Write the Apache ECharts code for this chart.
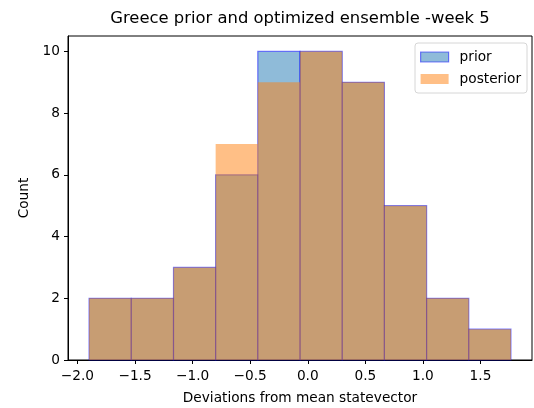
<!DOCTYPE html>
<html>
<head>
<meta charset="utf-8">
<script src="https://cdn.jsdelivr.net/npm/echarts@6/dist/echarts.min.js"></script>
<style>html,body{margin:0;padding:0;background:#fff}#c{width:534px;height:408px}</style>
</head>
<body>
<div id="c"></div>
<script>
const binEdges = [-1.899, -1.533, -1.166, -0.800, -0.434, -0.067, 0.299, 0.665, 1.032, 1.398, 1.764];
const priorCounts = [2, 2, 3, 6, 10, 10, 9, 5, 2, 1];
const posteriorCounts = [2, 2, 3, 7, 9, 10, 9, 5, 2, 1];
const xTicks = [-2.0, -1.5, -1.0, -0.5, 0.0, 0.5, 1.0, 1.5];
const yTicks = [0, 2, 4, 6, 8, 10];
const seriesNames = ['prior', 'posterior'];

const font = 'DejaVu Sans';
const fs = 13.7;
function toBins(counts) {
  return counts.map((c, i) => [binEdges[i], binEdges[i + 1], c]);
}
function makeRender(fill, stroke) {
  return function (params, api) {
    const p0 = api.coord([api.value(0), api.value(2)]);
    const p1 = api.coord([api.value(1), 0]);
    return {
      type: 'rect',
      shape: { x: p0[0], y: p0[1], width: p1[0] - p0[0], height: p1[1] - p0[1] },
      style: { fill: fill, stroke: stroke, lineWidth: stroke ? 1.2 : 0 }
    };
  };
}
const span = binEdges[binEdges.length - 1] - binEdges[0];
const xMin = binEdges[0] - 0.05 * span;
const xMax = binEdges[binEdges.length - 1] + 0.05 * span;
const priorFill = 'rgba(31,119,180,0.5)';
const priorEdge = 'rgba(0,0,255,0.5)';
const postFill = 'rgba(255,127,14,0.5)';

const chart = echarts.init(document.getElementById('c'), null, { renderer: 'canvas' });
chart.setOption({
  animation: false,
  backgroundColor: '#fff',
  title: {
    text: 'Greece prior and optimized ensemble -week 5',
    left: 300, top: 11, textAlign: 'center', padding: 0,
    textStyle: { fontFamily: font, fontSize: 16.4, fontWeight: 'normal', color: '#000' }
  },
  legend: {
    orient: 'vertical', left: 415, top: 43,
    backgroundColor: 'rgba(255,255,255,0.8)', borderColor: '#d6d6d6', borderWidth: 1, borderRadius: 3,
    padding: [6, 6, 6, 5], itemGap: 6, itemWidth: 28, itemHeight: 10,
    textStyle: { fontFamily: font, fontSize: fs, color: '#000', padding: [0, 0, 0, 6], lineHeight: 16 },
    data: [
      { name: seriesNames[0], icon: 'rect', itemStyle: { color: priorFill, borderColor: priorEdge, borderWidth: 1.2 } },
      { name: seriesNames[1], icon: 'rect', itemStyle: { color: postFill, borderWidth: 0 } }
    ]
  },
  grid: { left: 68, right: 2, top: 36, bottom: 48, containLabel: false, outerBoundsMode: 'none',
    show: true, borderColor: '#000', borderWidth: 1, backgroundColor: 'transparent' },
  xAxis: {
    type: 'value', min: xMin, max: xMax,
    name: 'Deviations from mean statevector', nameLocation: 'middle', nameGap: 31,
    nameTextStyle: { fontFamily: font, fontSize: fs, color: '#000' },
    axisLine: { show: true, onZero: false, lineStyle: { color: '#000', width: 1 } },
    axisTick: { show: true, length: 4, lineStyle: { color: '#000' }, customValues: xTicks },
    axisLabel: { fontFamily: font, fontSize: fs, color: '#000', margin: 9, customValues: xTicks,
      formatter: v => v.toFixed(1).replace('-', '\u2212') },
    splitLine: { show: false }
  },
  yAxis: {
    type: 'value', min: 0, max: 10.5,
    name: 'Count', nameLocation: 'middle', nameGap: 34, nameRotate: 90,
    nameTextStyle: { fontFamily: font, fontSize: fs, color: '#000' },
    axisLine: { show: true, onZero: false, lineStyle: { color: '#000', width: 1 } },
    axisTick: { show: true, length: 4, lineStyle: { color: '#000' }, customValues: yTicks },
    axisLabel: { fontFamily: font, fontSize: fs, color: '#000', margin: 8, customValues: yTicks },
    splitLine: { show: false }
  },
  series: [
    { name: seriesNames[0], type: 'custom', renderItem: makeRender(priorFill, priorEdge),
      itemStyle: { color: priorFill }, encode: { x: [0, 1], y: 2 }, data: toBins(priorCounts) },
    { name: seriesNames[1], type: 'custom', renderItem: makeRender(postFill, null),
      itemStyle: { color: postFill }, encode: { x: [0, 1], y: 2 }, data: toBins(posteriorCounts) }
  ]
});
</script>
</body>
</html>
